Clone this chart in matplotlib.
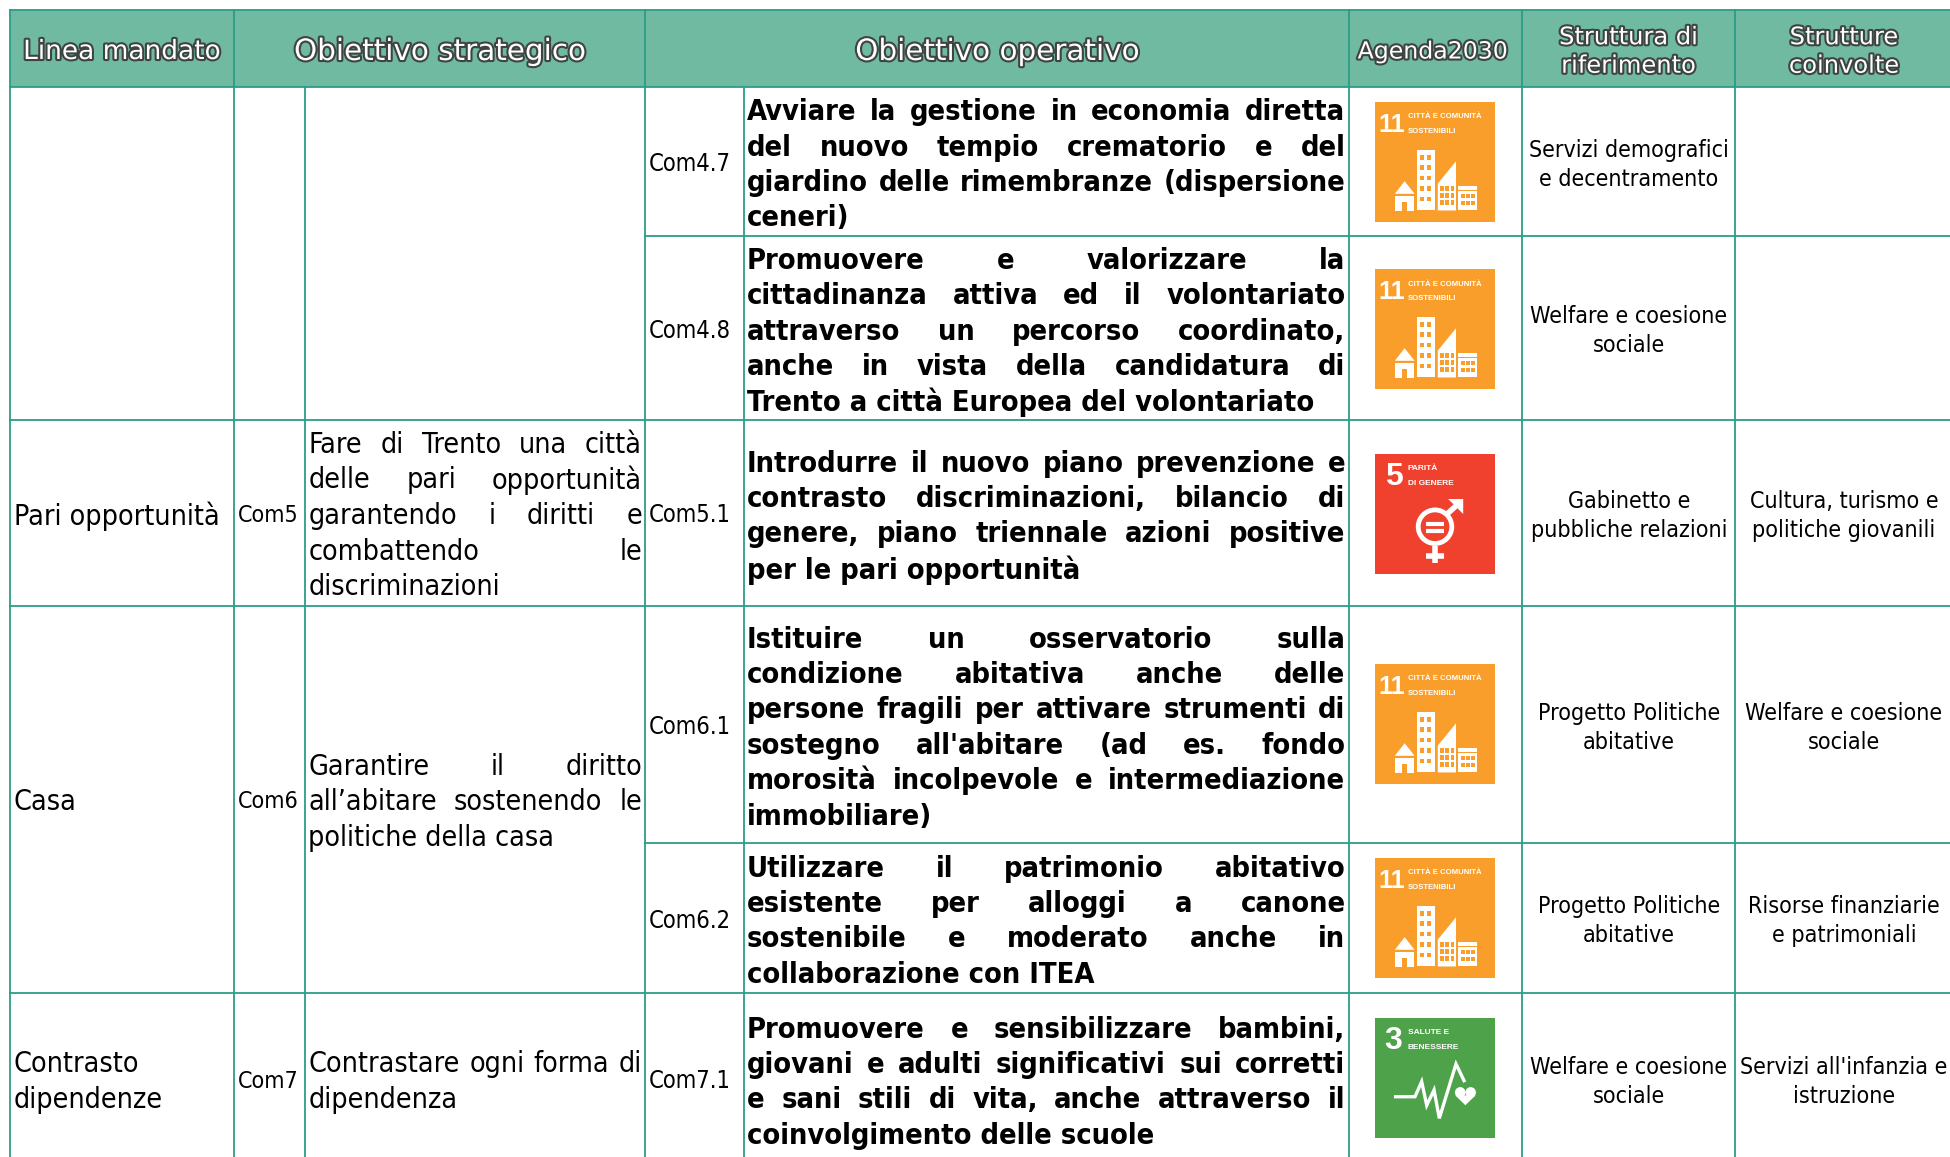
import matplotlib
matplotlib.use("Agg")
import matplotlib.pyplot as plt
from matplotlib.patches import Rectangle, Polygon, Circle, Wedge
import matplotlib.patheffects as pe

# --- contenuti della tabella ---
header_labels = ["Linea mandato", "Obiettivo strategico", "Obiettivo operativo", "Agenda2030",
                 "Struttura di\nriferimento", "Strutture\ncoinvolte"]

linea_mandato = [("Pari opportunità",), ("Casa",), ("Contrasto", "dipendenze")]
com_strategici = ["Com5", "Com6", "Com7"]
obiettivi_strategici = [
    ["Fare di Trento una città", "delle pari opportunità", "garantendo i diritti e", "combattendo le", "discriminazioni"],
    ["Garantire il diritto", "all’abitare sostenendo le", "politiche della casa"],
    ["Contrastare ogni forma di", "dipendenza"],
]

com_operativi = ["Com4.7", "Com4.8", "Com5.1", "Com6.1", "Com6.2", "Com7.1"]
obiettivi_operativi = [
    ["Avviare la gestione in economia diretta", "del nuovo tempio crematorio e del",
     "giardino delle rimembranze (dispersione", "ceneri)"],
    ["Promuovere e valorizzare la", "cittadinanza attiva ed il volontariato",
     "attraverso un percorso coordinato,", "anche in vista della candidatura di",
     "Trento a città Europea del volontariato"],
    ["Introdurre il nuovo piano prevenzione e", "contrasto discriminazioni, bilancio di",
     "genere, piano triennale azioni positive", "per le pari opportunità"],
    ["Istituire un osservatorio sulla", "condizione abitativa anche delle",
     "persone fragili per attivare strumenti di", "sostegno all'abitare (ad es. fondo",
     "morosità incolpevole e intermediazione", "immobiliare)"],
    ["Utilizzare il patrimonio abitativo", "esistente per alloggi a canone",
     "sostenibile e moderato anche in", "collaborazione con ITEA"],
    ["Promuovere e sensibilizzare bambini,", "giovani e adulti significativi sui corretti",
     "e sani stili di vita, anche attraverso il", "coinvolgimento delle scuole"],
]
sdg_goal = [11, 11, 5, 11, 11, 3]
sdg_titles = {11: ("CITTÀ E COMUNITÀ", "SOSTENIBILI"), 5: ("PARITÀ", "DI GENERE"), 3: ("SALUTE E", "BENESSERE")}
sdg_colors = {11: "#F99D2B", 5: "#EF412D", 3: "#4DA24A"}

struttura_rif = [("Servizi demografici", "e decentramento"), ("Welfare e coesione", "sociale"),
                 ("Gabinetto e", "pubbliche relazioni"), ("Progetto Politiche", "abitative"),
                 ("Progetto Politiche", "abitative"), ("Welfare e coesione", "sociale")]
strutture_coinv = [(), (), ("Cultura, turismo e", "politiche giovanili"), ("Welfare e coesione", "sociale"),
                   ("Risorse finanziarie", "e patrimoniali"), ("Servizi all'infanzia e", "istruzione")]

# griglia in pixel
X = [10, 234, 305, 645, 744, 1349, 1522, 1735, 1953]
Y_top, Y_head = 9.5, 87
row_edges = [87, 236, 420, 606, 843, 993, 1165]
group_rows = [(2, 3), (3, 5), (5, 6)]  # righe coperte da ogni linea di mandato
icon_y = [102, 269, 454, 664, 858, 1018]

LINE = "#2A9D88"
HEAD = "#6FBAA0"
FF = ["DejaVu Sans"]

fig = plt.figure(figsize=(19.5, 11.57), dpi=100)
ax = fig.add_axes([0, 0, 1, 1])
ax.set_xlim(0, 1950)
ax.set_ylim(1157, 0)
ax.axis("off")
rend = fig.canvas.get_renderer()


def put(x, y, s, size=20.5, weight="normal", ha="left", stretch="condensed", **kw):
    return ax.text(x, y, s, fontsize=size, fontweight=weight, ha=ha, va="center_baseline",
                   family=FF, stretch=stretch, color=kw.pop("color", "black"), **kw)


def centered_lines(x, yc, lines, lh, **kw):
    n = len(lines)
    for i, s in enumerate(lines):
        put(x, yc + (i - (n - 1) / 2) * lh, s, **kw)


def justified(x0, x1, yc, lines, lh, size, weight):
    n = len(lines)
    for i, s in enumerate(lines):
        y = yc + (i - (n - 1) / 2) * lh
        words = s.split()
        if i == n - 1 or len(words) == 1:
            put(x0, y, s, size=size, weight=weight)
            continue
        tt = [put(x0, y, w, size=size, weight=weight) for w in words]
        ws = [t.get_window_extent(rend).width for t in tt]
        gap = (x1 - x0 - sum(ws)) / (len(words) - 1)
        xx = x0
        for t, w in zip(tt, ws):
            t.set_x(xx)
            xx += w + gap


def city(x0, y0, s, c):
    white = "white"
    def R(a, b, w, h, col=white):
        ax.add_patch(Rectangle((x0 + a * s, y0 + b * s), w * s, h * s, fc=col, ec="none"))
    ax.add_patch(Polygon([(x0 + .165 * s, y0 + .765 * s), (x0 + .247 * s, y0 + .66 * s), (x0 + .33 * s, y0 + .765 * s)], fc=white, ec="none"))
    R(.165, .78, .16, .125)
    R(.225, .83, .045, .075, c)
    R(.347, .396, .15, .508)
    for r in range(5):
        for k in range(2):
            R(.378 + k * .058, .44 + r * .087, .034, .04, c)
    ax.add_patch(Polygon([(x0 + .523 * s, y0 + .68 * s), (x0 + .675 * s, y0 + .494 * s), (x0 + .675 * s, y0 + .904 * s), (x0 + .523 * s, y0 + .904 * s)], fc=white, ec="none"))
    for r in range(3):
        for k in range(3):
            R(.54 + k * .045, .70 + r * .06, .032, .038, c)
    R(.695, .70, .155, .204)
    R(.695, .73, .155, .012, c)
    for r in range(2):
        for k in range(3):
            R(.715 + k * .042, .77 + r * .055, .032, .032, c)


def gender(x0, y0, s):
    P = lambda a, b: (x0 + a * s, y0 + b * s)
    ax.add_patch(Wedge(P(.5, .606), .16 * s, 0, 360, width=.04 * s, fc="white", ec="none"))
    ax.plot(*zip(P(.6, .5), P(.70, .41)), color="white", lw=4, solid_capstyle="butt")
    ax.add_patch(Polygon([P(.735, .375), P(.735, .50), P(.61, .375)], fc="white", ec="none"))
    ax.plot(*zip(P(.5, .77), P(.5, .91)), color="white", lw=4, solid_capstyle="butt")
    ax.plot(*zip(P(.425, .85), P(.575, .85)), color="white", lw=4, solid_capstyle="butt")
    for b in (.585, .645):
        ax.plot(*zip(P(.425, b), P(.575, b)), color="white", lw=3, solid_capstyle="butt")


def pulse(x0, y0, s):
    P = lambda a, b: (x0 + a * s, y0 + b * s)
    pts = [(.172, .656), (.333, .656), (.389, .53), (.431, .728), (.492, .6), (.536, .836), (.675, .383), (.742, .522)]
    ax.plot(*zip(*[P(*p) for p in pts]), color="white", lw=2.4, solid_joinstyle="miter")
    ax.add_patch(Circle(P(.71, .62), .044 * s, fc="white", ec="none"))
    ax.add_patch(Circle(P(.797, .62), .044 * s, fc="white", ec="none"))
    ax.add_patch(Polygon([P(.669, .645), P(.838, .645), P(.753, .727)], fc="white", ec="none"))


def icon(x0, y0, goal, s=120):
    c = sdg_colors[goal]
    ax.add_patch(Rectangle((x0, y0), s, s, fc=c, ec="none"))
    tkw = dict(color="white", family=["Liberation Sans", "DejaVu Sans"], va="center", ha="left")
    if goal == 11:
        ax.text(x0 + .03 * s, y0 + .19 * s, str(goal), fontsize=18, fontweight="bold", **tkw)
    else:
        ax.text(x0 + .08 * s, y0 + .19 * s, str(goal), fontsize=23, fontweight="bold", **tkw)
    t1, t2 = sdg_titles[goal]
    for b, t in zip((.125, .245), (t1, t2)):
        ax.text(x0 + .275 * s, y0 + b * s, t, fontsize=5.6 if goal == 11 else 6, fontweight="bold", **tkw)
    if goal == 11:
        city(x0, y0, s, c)
    elif goal == 5:
        gender(x0, y0, s)
    else:
        pulse(x0, y0, s)


# testata
ax.add_patch(Rectangle((X[0], Y_top), X[-1] - X[0], Y_head - Y_top, fc=HEAD, ec="none"))
head_x = [(X[0] + X[1]) / 2, (X[1] + X[3]) / 2, (X[3] + X[5]) / 2, (X[5] + X[6]) / 2 - 3, (X[6] + X[7]) / 2, (X[7] + X[8]) / 2]
head_size = [19, 21.2, 21.2, 17, 17.4, 17.4]
outline = [pe.withStroke(linewidth=3, foreground="#3F4441")]
for hx, lab, sz in zip(head_x, header_labels, head_size):
    lines = lab.split("\n")
    for i, s in enumerate(lines):
        yy = 49 + (i - (len(lines) - 1) / 2) * 28.5
        t = ax.text(hx, yy, s, fontsize=sz, color="white", ha="center", va="center_baseline", family=FF)
        t.set_path_effects(outline)

# griglia
lw = 1.3
for x in (X[0], X[1], X[3], X[5], X[6], X[7]):
    ax.plot([x, x], [Y_top, 1157], color=LINE, lw=lw)
for x in (X[2], X[4]):
    ax.plot([x, x], [Y_head, 1157], color=LINE, lw=lw)
for y in (Y_top, Y_head, 420, 606, 993):
    ax.plot([X[0], 1950], [y, y], color=LINE, lw=lw)
for y in (236, 843):
    ax.plot([X[3], 1950], [y, y], color=LINE, lw=lw)

# colonne di sinistra
for (a, b), lin, com, strat in zip(group_rows, linea_mandato, com_strategici, obiettivi_strategici):
    yc = (row_edges[a] + row_edges[b]) / 2
    centered_lines(13.5, yc, lin, 35.6, size=20.5)
    put(238, yc, com, size=16.7)
    justified(308.5, 642, yc, strat, 35.6, 20.5, "normal")

# righe operative
for i in range(6):
    yc = (row_edges[i] + row_edges[i + 1]) / 2
    put(649, yc, com_operativi[i], size=17)
    justified(747, 1345.5, yc + 0.7, obiettivi_operativi[i], 35.4, 20.8, "bold")
    icon(1375, icon_y[i], sdg_goal[i])
    centered_lines((X[6] + X[7]) / 2 + 0.5, yc + 0.7, struttura_rif[i], 29.2, size=16.7, ha="center")
    centered_lines((X[7] + X[8]) / 2, yc + 0.7, strutture_coinv[i], 29.2, size=16.7, ha="center")

fig.savefig("out.png", dpi=100)
